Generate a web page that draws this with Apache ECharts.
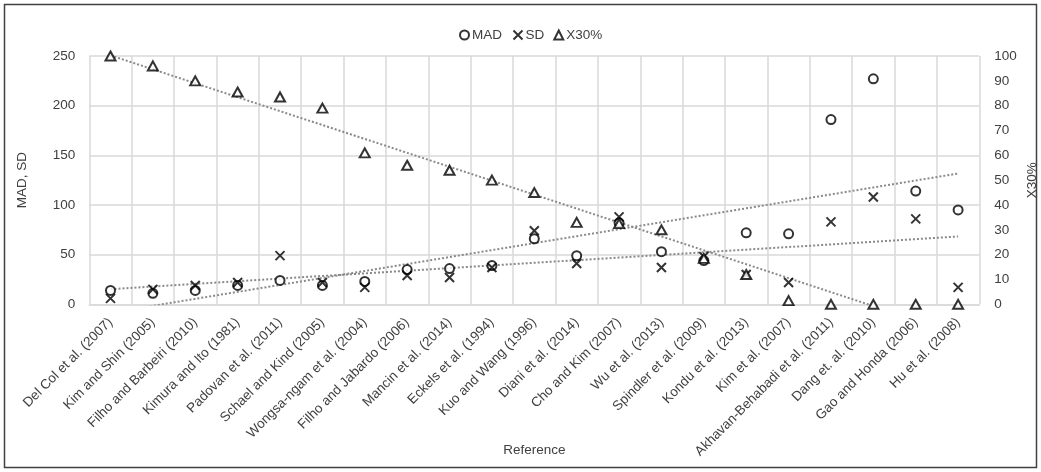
<!DOCTYPE html>
<html>
<head>
<meta charset="utf-8">
<script src="https://cdn.jsdelivr.net/npm/echarts@6/dist/echarts.min.js"></script>
<style>
html,body{margin:0;padding:0;background:#fff;}
#chart{width:1041px;height:472px;}
</style>
</head>
<body>
<div id="chart"></div>
<script>
const categories = [
  'Del Col et al. (2007)', 'Kim and Shin (2005)', 'Filho and Barbeiri (2010)', 'Kimura and Ito (1981)',
  'Padovan et al. (2011)', 'Schael and Kind (2005)', 'Wongsa-ngam et al. (2004)', 'Filho and Jabardo (2006)',
  'Mancin et al. (2014)', 'Eckels et al. (1994)', 'Kuo and Wang (1996)', 'Diani et al. (2014)',
  'Cho and Kim (2007)', 'Wu et al. (2013)', 'Spindler et al. (2009)', 'Kondu et al. (2013)',
  'Kim et al. (2007)', 'Akhavan-Behabadi et al. (2011)', 'Dang et. al. (2010)', 'Gao and Honda (2006)',
  'Hu et al. (2008)'
];
const madValues = [14, 11, 14, 19, 24, 19, 23, 35, 36, 39, 66, 49, 82, 53, 44, 72, 71, 186, 227, 114, 95];
const sdValues = [6, 15, 19, 22, 49, 22, 17, 29, 27, 37, 74, 41, 88, 37, 48, 30, 22, 83, 108, 86, 17];
const x30Values = [100, 96, 90, 85.5, 83.5, 79, 61, 56, 54, 50, 45, 33, 32.5, 30, 18.5, 12, 1.5, 0, 0, 0, 0];
const leftTicks = { min: 0, max: 250, interval: 50 };
const rightTicks = { min: 0, max: 100, interval: 10 };

// Linear trend (least squares), as in spreadsheet trendlines
function trend(values) {
  const n = values.length;
  let sx = 0, sy = 0, sxx = 0, sxy = 0;
  values.forEach((v, i) => { const x = i + 1; sx += x; sy += v; sxx += x * x; sxy += x * v; });
  const slope = (n * sxy - sx * sy) / (n * sxx - sx * sx);
  const icpt = (sy - slope * sx) / n;
  return values.map((v, i) => +(icpt + slope * (i + 1)).toFixed(3));
}

const FONT = "'Liberation Sans', Arial, sans-serif";
const TXT = '#404040';
const FS = 13.5;
const crossPath = 'path://M0,0L10,10M10,0L0,10';

const chart = echarts.init(document.getElementById('chart'), null, { renderer: 'canvas' });
const trendStyle = { color: '#8a8a8a', width: 2, type: [2, 2] };
const markerStyle = { color: '#ffffff', borderColor: '#000000', borderWidth: 2 };

chart.setOption({
  animation: false,
  textStyle: { fontFamily: FONT },
  graphic: [{
    type: 'rect', shape: { x: 4.5, y: 4.5, width: 1032, height: 463 },
    style: { fill: 'none', stroke: '#404040', lineWidth: 1.5 }, silent: true, z: 100
  }],
  legend: {
    top: 23, left: 454,
    itemWidth: 9, itemHeight: 9, itemGap: 9,
    textStyle: { fontSize: FS, color: TXT, fontFamily: FONT, padding: [0, 0, 0, -2] },
    data: [
      { name: 'MAD', icon: 'circle' },
      { name: 'SD', icon: crossPath },
      { name: 'X30%', icon: 'triangle' }
    ]
  },
  grid: { left: 89.3, right: 61.7, top: 56, bottom: 167.7, containLabel: false, outerBoundsMode: 'none' },
  xAxis: {
    type: 'category', data: categories, boundaryGap: true,
    name: 'Reference', nameLocation: 'middle', nameGap: 139, nameMoveOverlap: false,
    nameTextStyle: { fontSize: FS, color: TXT },
    axisLine: { lineStyle: { color: '#d9d9d9', width: 1.5 } },
    axisTick: { show: false },
    splitLine: { show: true, lineStyle: { color: '#d9d9d9', width: 1.5 } },
    axisLabel: { rotate: 45, interval: 0, fontSize: FS, color: TXT, margin: 16 }
  },
  yAxis: [{
    type: 'value', min: leftTicks.min, max: leftTicks.max, interval: leftTicks.interval,
    name: 'MAD, SD', nameLocation: 'middle', nameGap: 60, nameRotate: 90, nameMoveOverlap: false,
    nameTextStyle: { fontSize: FS, color: TXT },
    axisLine: { show: false }, axisTick: { show: false },
    splitLine: { lineStyle: { color: '#d9d9d9', width: 1.5 } },
    axisLabel: { fontSize: FS, color: TXT, margin: 14 }
  }, {
    type: 'value', min: rightTicks.min, max: rightTicks.max, interval: rightTicks.interval,
    name: 'X30%', nameLocation: 'middle', nameGap: 46, nameRotate: 90, nameMoveOverlap: false,
    nameTextStyle: { fontSize: FS, color: TXT },
    axisLine: { show: false }, axisTick: { show: false },
    splitLine: { show: false },
    axisLabel: { fontSize: FS, color: TXT, margin: 15 }
  }],
  series: [
    { name: 'MAD trend', type: 'line', data: trend(madValues), yAxisIndex: 0, showSymbol: false, symbol: 'none',
      lineStyle: trendStyle, silent: true, z: 1, clip: true },
    { name: 'SD trend', type: 'line', data: trend(sdValues), yAxisIndex: 0, showSymbol: false, symbol: 'none',
      lineStyle: trendStyle, silent: true, z: 1, clip: true },
    { name: 'X30% trend', type: 'line', data: trend(x30Values), yAxisIndex: 1, showSymbol: false, symbol: 'none',
      lineStyle: trendStyle, silent: true, z: 1, clip: true },
    { name: 'MAD', type: 'scatter', data: madValues, yAxisIndex: 0, symbol: 'circle', symbolSize: 9,
      itemStyle: markerStyle, z: 3 },
    { name: 'SD', type: 'scatter', data: sdValues, yAxisIndex: 0, symbol: crossPath, symbolSize: 9,
      itemStyle: { color: 'none', borderColor: '#000000', borderWidth: 2 }, z: 3 },
    { name: 'X30%', type: 'scatter', data: x30Values, yAxisIndex: 1, symbol: 'triangle', symbolSize: [10, 9],
      itemStyle: markerStyle, z: 3 }
  ]
});
</script>
</body>
</html>
